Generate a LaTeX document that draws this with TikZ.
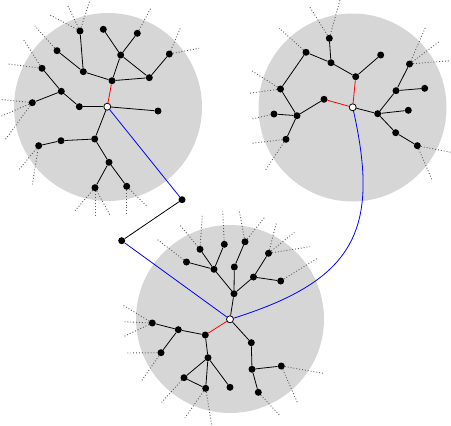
\documentclass[tikz,border=0pt]{standalone}
\usepackage{tikz}
\usetikzlibrary{positioning}
\pgfdeclarelayer{background}
\pgfsetlayers{background,main}
\definecolor{disc}{RGB}{214,214,214}

\begin{document}
\begin{tikzpicture}[x=1pt, y=-1pt]
\tikzstyle{vertex} = [circle, fill=black, inner sep=0pt, minimum size=7pt]
\tikzstyle{hub} = [circle, draw=black, fill=white, line width=0.8pt, inner sep=0pt, minimum size=7pt]
\tikzstyle{edge} = [line width=0.8pt]
\tikzstyle{inner} = [line width=0.8pt, red]
\tikzstyle{link} = [line width=0.8pt, blue]
\tikzstyle{stub} = [line width=0.9pt, dotted, black!65]
\tikzstyle{region} = [fill=disc]

\useasboundingbox (0,0) rectangle (451,426);

% left tree
\node[hub] (hubL) at (107.3,106.7) {};
\node[vertex] (l1) at (112,80.7) {};
\node[vertex] (l2) at (83.3,71.7) {};
\node[vertex] (l3) at (80,31) {};
\node[vertex] (l4) at (57,50.7) {};
\node[vertex] (l5) at (120.7,55) {};
\node[vertex] (l6) at (103.3,29.3) {};
\node[vertex] (l7) at (137.3,33.3) {};
\node[vertex] (l8) at (149.3,77.7) {};
\node[vertex] (l9) at (169.3,54) {};
\node[vertex] (l10) at (79.3,106.7) {};
\node[vertex] (l11) at (61.3,91.3) {};
\node[vertex] (l12) at (42,68.3) {};
\node[vertex] (l13) at (32.3,102.7) {};
\node[vertex] (l14) at (158,111) {};
\node[vertex] (l15) at (94.7,139) {};
\node[vertex] (l16) at (61,140.7) {};
\node[vertex] (l17) at (38.7,145.7) {};
\node[vertex] (l18) at (109,162.3) {};
\node[vertex] (l19) at (95,187.7) {};
\node[vertex] (l20) at (126.7,186.3) {};

% right tree
\node[hub] (hubR) at (352.7,107.3) {};
\node[vertex] (r1) at (355.7,76.7) {};
\node[vertex] (r2) at (331,62.7) {};
\node[vertex] (r3) at (329.3,38.3) {};
\node[vertex] (r4) at (306,52.3) {};
\node[vertex] (r5) at (380.7,55) {};
\node[vertex] (r6) at (324,99.3) {};
\node[vertex] (r7) at (280.5,89) {};
\node[vertex] (r8) at (297,115.7) {};
\node[vertex] (r9) at (274,114) {};
\node[vertex] (r10) at (286,139.3) {};
\node[vertex] (r11) at (377.7,113.7) {};
\node[vertex] (r12) at (396,90.7) {};
\node[vertex] (r13) at (409.5,64) {};
\node[vertex] (r14) at (424.7,88.3) {};
\node[vertex] (r15) at (408.3,110.3) {};
\node[vertex] (r16) at (395.7,132.7) {};
\node[vertex] (r17) at (417.3,145.7) {};

% bottom tree
\node[hub] (hubB) at (230,319.3) {};
\node[vertex] (b1) at (234,293.7) {};
\node[vertex] (b2) at (214,269.3) {};
\node[vertex] (b3) at (186.5,262) {};
\node[vertex] (b4) at (200,249.3) {};
\node[vertex] (b5) at (224.3,244.3) {};
\node[vertex] (b6) at (234.3,267) {};
\node[vertex] (b7) at (245,241.8) {};
\node[vertex] (b8) at (253.5,277) {};
\node[vertex] (b9) at (268.5,253.3) {};
\node[vertex] (b10) at (280.7,281) {};
\node[vertex] (b11) at (205.3,335) {};
\node[vertex] (b12) at (178.3,329.7) {};
\node[vertex] (b13) at (152.3,323) {};
\node[vertex] (b14) at (161,352.7) {};
\node[vertex] (b15) at (208,357.7) {};
\node[vertex] (b16) at (184,377.7) {};
\node[vertex] (b17) at (205.7,388.3) {};
\node[vertex] (b18) at (230,387.3) {};
\node[vertex] (b19) at (251.3,342.7) {};
\node[vertex] (b20) at (252,369.3) {};
\node[vertex] (b21) at (281.3,366) {};
\node[vertex] (b22) at (258.3,392.3) {};

% path between the trees
\node[vertex] (via1) at (182,199.7) {};
\node[vertex] (via2) at (121.7,240.7) {};

\begin{pgfonlayer}{background}
\fill[region] (108,107) circle (94pt);
\fill[region] (352.5,107.5) circle (94pt);
\fill[region] (230,319) circle (94pt);

\foreach \s/\x/\y [count=\i] in {l3/50/15, l3/68/6, l3/90/0, l4/35/26, l12/23.3/39.3, l12/8.3/64,
  l13/0/99.3, l13/0/116.7, l13/5/140, l17/19.3/169.3, l17/32.3/184.3, l19/75/210.7, l19/95/215,
  l19/110/215, l20/126.7/213.3, l20/147.3/206.7, l7/150.7/8.3, l9/180.7/27.3, l9/199/48.3,
  r3/310/7.3, r3/340/0, r4/279.3/28.3, r7/251.7/70.7, r7/249/93.3, r9/251.7/119, r10/251.7/143.3,
  r10/265/170.7, r13/425.7/26.7, r13/439/41.7, r13/450/60.7, r17/451/152.3, r17/432.3/180.7,
  b3/156.7/239, b4/179.3/224.3, b4/202.3/215, b5/222.7/211, b7/239.3/211, b7/264.3/217.7,
  b9/276.7/221.7, b9/294.3/232.3, b9/310/246.7, b10/318.3/257.7, b13/122.7/305, b13/122.7/321.7,
  b13/123.3/336.7, b14/126.7/353, b14/141.7/380.7, b16/161.7/402.3, b17/185/417.7, b17/211.7/425,
  b21/323.3/373.3, b21/297.7/403.3, b22/280/415.7}
{
  \coordinate (end\i) at (\x,\y);
  \draw[stub] (\s) -- (end\i);
}

\foreach \u/\v in {l1/l2, l2/l3, l2/l4, l1/l5, l5/l6, l5/l7, l5/l8, l1/l8, l8/l9, hubL/l10,
  l10/l11, l11/l12, l11/l13, hubL/l14, hubL/l15, l15/l16, l16/l17, l15/l18, l18/l19, l18/l20,
  r1/r2, r2/r3, r2/r4, r1/r5, r6/r8, r8/r7, r7/r4, r8/r9, r8/r10, hubR/r11, r11/r12, r12/r13,
  r12/r14, r11/r15, r11/r16, r16/r17,
  hubB/b1, b1/b2, b2/b3, b2/b4, b2/b5, b1/b6, b6/b7, b1/b8, b8/b9, b8/b10, b11/b12, b12/b13,
  b12/b14, b11/b15, b15/b16, b15/b17, b16/b17, b15/b18, hubB/b19, b19/b20, b20/b21, b20/b22}
  \draw[edge] (\u) -- (\v);

\draw[inner] (hubL) -- (l1);
\draw[inner] (hubR) -- (r1);
\draw[inner] (hubR) -- (r6);
\draw[inner] (hubB) -- (b11);

\draw[link] (hubL) -- (via1);
\draw[edge] (via1) -- (via2);
\draw[link] (via2) -- (hubB);
\draw[link] (hubR) .. controls (380,230) and (355,280) .. (hubB);
\end{pgfonlayer}
\end{tikzpicture}
\end{document}
